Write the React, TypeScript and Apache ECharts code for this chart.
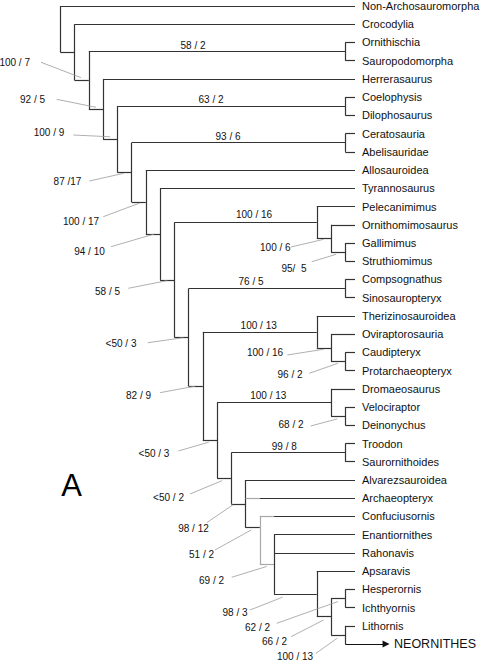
import React, { useEffect, useRef } from "react";
import * as echarts from "echarts";

// ---------- DATA ----------
const taxa: string[] = [
  "Non-Archosauromorpha", "Crocodylia", "Ornithischia", "Sauropodomorpha", "Herrerasaurus",
  "Coelophysis", "Dilophosaurus", "Ceratosauria", "Abelisauridae", "Allosauroidea",
  "Tyrannosaurus", "Pelecanimimus", "Ornithomimosaurus", "Gallimimus", "Struthiomimus",
  "Compsognathus", "Sinosauropteryx", "Therizinosauroidea", "Oviraptorosauria", "Caudipteryx",
  "Protarchaeopteryx", "Dromaeosaurus", "Velociraptor", "Deinonychus", "Troodon",
  "Saurornithoides", "Alvarezsauroidea", "Archaeopteryx", "Confuciusornis", "Enantiornithes",
  "Rahonavis", "Apsaravis", "Hesperornis", "Ichthyornis", "Lithornis", "NEORNITHES",
];

type Child = number | string;
// [clade id, column (rank), children: taxon index or clade id]
const clades: [string, number, Child[]][] = [
  ["n0", 0, [0, "n1"]],
  ["n1", 1, [1, "n2"]],
  ["n2", 2, ["orn", "n3"]],
  ["orn", 20, [2, 3]],
  ["n3", 3, [4, "n4"]],
  ["n4", 4, ["coe", "n5"]],
  ["coe", 20, [5, 6]],
  ["n5", 5, ["cer", "n6"]],
  ["cer", 20, [7, 8]],
  ["n6", 6, [9, "n7"]],
  ["n7", 7, [10, "n8"]],
  ["n8", 8, ["omm", "n9"]],
  ["omm", 18, [11, "omm2"]],
  ["omm2", 19, [12, "omm3"]],
  ["omm3", 20, [13, 14]],
  ["n9", 9, ["comp", "n10"]],
  ["comp", 20, [15, 16]],
  ["n10", 10, ["ther", "n11"]],
  ["ther", 18, [17, "ovi"]],
  ["ovi", 19, [18, "cau"]],
  ["cau", 20, [19, 20]],
  ["n11", 11, ["dro", "n12"]],
  ["dro", 19, [21, "vel"]],
  ["vel", 20, [22, 23]],
  ["n12", 12, ["tro", "n13"]],
  ["tro", 20, [24, 25]],
  ["n13", 13, [26, 27, "n14"]],
  ["n14", 14, [28, "n15"]],
  ["n15", 15, [29, 30, "n16"]],
  ["n16", 18, [31, "n17"]],
  ["n17", 19, ["hes", "lit"]],
  ["hes", 20, [32, 33]],
  ["lit", 20, [34, 35]],
];

// support values written above a branch
const branchSupport: [string, string][] = [
  ["orn", "58 / 2"], ["coe", "63 / 2"], ["cer", "93 / 6"], ["omm", "100 / 16"],
  ["comp", "76 / 5"], ["ther", "100 / 13"], ["dro", "100 / 13"], ["tro", "99 / 8"],
];

// support values with a leader line
const calloutSupport: [string, string][] = [
  ["n2", "100 / 7"], ["n3", "92 / 5"], ["n4", "100 / 9"], ["n5", "87 /17"],
  ["n6", "100 / 17"], ["n7", "94 / 10"], ["n8", "58 / 5"], ["omm2", "100 / 6"],
  ["omm3", "95/  5"], ["n9", "<50 / 3"], ["ovi", "100 / 16"], ["cau", "96 / 2"],
  ["n10", "82 / 9"], ["vel", "68 / 2"], ["n11", "<50 / 3"], ["n12", "<50 / 2"],
  ["n13", "98 / 12"], ["n14", "51 / 2"], ["n15", "69 / 2"], ["n16", "98 / 3"],
  ["hes", "62 / 2"], ["n17", "66 / 2"], ["lit", "100 / 13"],
];

// ---------- LAYOUT ----------
const X_MIN = -4.2316, X_MAX = 29.4526, Y_MIN = -0.3291, Y_MAX = 35.93;
const LEAF_TIP = 20.68;
const LEAF_TEXT_COL = 21.17;
const ARROW_END = 22.86;
const ARROW_TEXT_COL = 23.42;
const rowOverride: Record<string, number> = { n14: 28.62 };
// faint (grey) part of a stem: [child, up to column]
const faintStems: [Child, number][] = [[27, 14], [28, 15], ["n15", 15]];
const faintVerticals = ["n14"];

const branchLabelPos: [number, number][] = [
  [9.312, 2.178], [10.575, 5.118], [11.768, 7.17], [13.593, 11.41],
  [13.382, 15.123], [13.923, 17.499], [14.596, 21.393], [15.719, 24.174],
];
// text col,row | leader start col,row | fraction along stem | row shift
const calloutLayout: [number, number, number, number, number, number][] = [
  [-3.2, 3.088, -1.354, 3.088, 0.45, -0.15],
  [-1.951, 5.118, -0.253, 5.118, 0.5, -0.1],
  [-0.793, 6.95, 0.912, 7.076, 0.5, -0.14],
  [0.505, 9.6, 2.035, 9.6, 0.45, 0.05],
  [1.453, 11.794, 3.018, 11.558, 0.55, 0.06],
  [2.049, 13.478, 3.558, 13.204, 0.58, 0],
  [3.312, 15.672, 4.772, 15.486, 0.5, 0.04],
  [15.088, 13.236, 16.189, 13.22, 0.48, 0.05],
  [16.4, 14.388, 17.642, 14.026, 0.36, 0.12],
  [4.26, 18.502, 6.133, 18.47, 0.63, 0.02],
  [14.365, 18.996, 15.93, 19.144, 0.48, 0.08],
  [16.119, 20.187, 17.474, 20.148, 0.48, 0.1],
  [5.488, 21.393, 6.996, 21.212, 0.48, 0],
  [16.189, 22.946, 17.572, 23.039, 0.43, 0.15],
  [6.575, 24.536, 8.281, 24.41, 0.42, 0.1],
  [7.593, 26.95, 9.102, 26.769, 0.36, 0.13],
  [9.347, 28.651, 10.274, 28.343, 0.12, 0.05],
  [9.909, 30.115, 10.856, 29.841, 0.4, 0.12],
  [10.611, 31.541, 12.028, 31.338, 0.48, 0.12],
  [12.26, 33.258, 13.312, 33.132, 0.2, 0.18],
  [13.839, 34.081, 15.186, 33.862, 0.48, 0.17],
  [15.032, 34.871, 16.189, 34.597, 0.48, 0.18],
  [16.47, 35.694, 17.944, 35.507, 0.43, 0.18],
];

const FONT = '"Liberation Sans", Arial, Helvetica, sans-serif';
const DARK = "#333333";
const FAINT = "#a8a8a8";
const LEADER = "#9c9c9c";

function buildTree() {
  const byId = new Map(clades.map((c) => [c[0], c]));
  const rows: Record<string, number> = {};
  const parentCol: Record<string, number> = {};
  const rowOf = (ch: Child): number => {
    if (typeof ch === "number") return ch;
    if (rows[ch] !== undefined) return rows[ch];
    const [, col, kids] = byId.get(ch)!;
    kids.forEach((k) => { if (typeof k === "string") parentCol[k] = col; rowOf(k); });
    const r = rowOverride[ch] ?? (rowOf(kids[0]) + rowOf(kids[kids.length - 1])) / 2;
    rows[ch] = r;
    return r;
  };
  rowOf("n0");
  const colOf = (ch: Child) => (typeof ch === "number" ? LEAF_TIP : byId.get(ch)![1]);
  const segs: { coords: number[][]; lineStyle: { color: string } }[] = [];
  let arrowStart: number[] = [0, 0];
  clades.forEach(([id, col, kids]) => {
    segs.push({
      coords: [[col, rowOf(kids[0])], [col, rowOf(kids[kids.length - 1])]],
      lineStyle: { color: faintVerticals.includes(id) ? FAINT : DARK },
    });
    kids.forEach((k) => {
      const r = rowOf(k);
      if (k === taxa.length - 1) { arrowStart = [col, r]; return; }
      const end = colOf(k);
      const f = faintStems.find((s) => s[0] === k);
      if (f) {
        segs.push({ coords: [[col, r], [f[1], r]], lineStyle: { color: FAINT } });
        if (f[1] < end) segs.push({ coords: [[f[1], r], [end, r]], lineStyle: { color: DARK } });
      } else {
        segs.push({ coords: [[col, r], [end, r]], lineStyle: { color: DARK } });
      }
    });
  });
  return { rows, parentCol, byId, segs, arrowStart };
}

export default function App() {
  const ref = useRef<HTMLDivElement>(null);
  useEffect(() => {
    if (!ref.current) return;
    const chart = echarts.init(ref.current, undefined, { renderer: "svg" });
    const { rows, parentCol, byId, segs, arrowStart } = buildTree();

    const leaders = calloutSupport.map(([id], i) => {
      const L = calloutLayout[i];
      const pc = parentCol[id];
      const nc = byId.get(id)![1];
      return { coords: [[L[2], L[3]], [pc + L[4] * (nc - pc), rows[id] + L[5]]] };
    });

    const textSeries = (
      pts: number[][], texts: string[], size: (i: number) => number, align: string,
    ) => ({
      type: "custom",
      coordinateSystem: "cartesian2d",
      silent: true,
      clip: false,
      data: pts,
      renderItem: (params: any, api: any) => {
        const p = api.coord([api.value(0), api.value(1)]);
        const i = params.dataIndex;
        return {
          type: "text",
          x: p[0],
          y: p[1],
          style: {
            text: texts[i], fontSize: size(i), fontFamily: FONT, fill: "#111",
            align, verticalAlign: "middle",
          },
        };
      },
    });

    const leafPts = taxa.map((_, i) => [i === taxa.length - 1 ? ARROW_TEXT_COL : LEAF_TEXT_COL, i]);

    chart.setOption({
      animation: false,
      backgroundColor: "#ffffff",
      grid: { left: 0, right: 0, top: 0, bottom: 0 },
      xAxis: { type: "value", min: X_MIN, max: X_MAX, show: false },
      yAxis: { type: "value", min: Y_MIN, max: Y_MAX, inverse: true, show: false },
      graphic: [{
        type: "text", x: 71.7, y: 485.5,
        style: { text: "A", fontSize: 31, fontFamily: FONT, fill: "#000", align: "center", verticalAlign: "middle" },
      }],
      series: [
        {
          type: "lines", coordinateSystem: "cartesian2d", silent: true,
          lineStyle: { width: 1.2, opacity: 1 }, data: segs,
        },
        {
          type: "lines", coordinateSystem: "cartesian2d", silent: true,
          lineStyle: { width: 0.8, color: LEADER, opacity: 1 }, data: leaders,
        },
        {
          type: "lines", coordinateSystem: "cartesian2d", silent: true,
          symbol: ["none", "triangle"], symbolSize: 7,
          lineStyle: { width: 1.2, color: "#111", opacity: 1 },
          itemStyle: { color: "#111" },
          data: [{ coords: [arrowStart, [ARROW_END, arrowStart[1]]] }],
        },
        textSeries(leafPts, taxa, (i) => (i === taxa.length - 1 ? 12.5 : 11), "left"),
        textSeries(branchLabelPos, branchSupport.map((s) => s[1]), () => 10, "center"),
        textSeries(calloutLayout.map((l) => [l[0], l[1]]), calloutSupport.map((s) => s[1]), () => 10, "center"),
      ],
    });
    return () => chart.dispose();
  }, []);
  return (
    <div
      ref={ref}
      style={{ position: "fixed", left: 0, top: 0, width: 480, height: 661, background: "#fff" }}
    />
  );
}
